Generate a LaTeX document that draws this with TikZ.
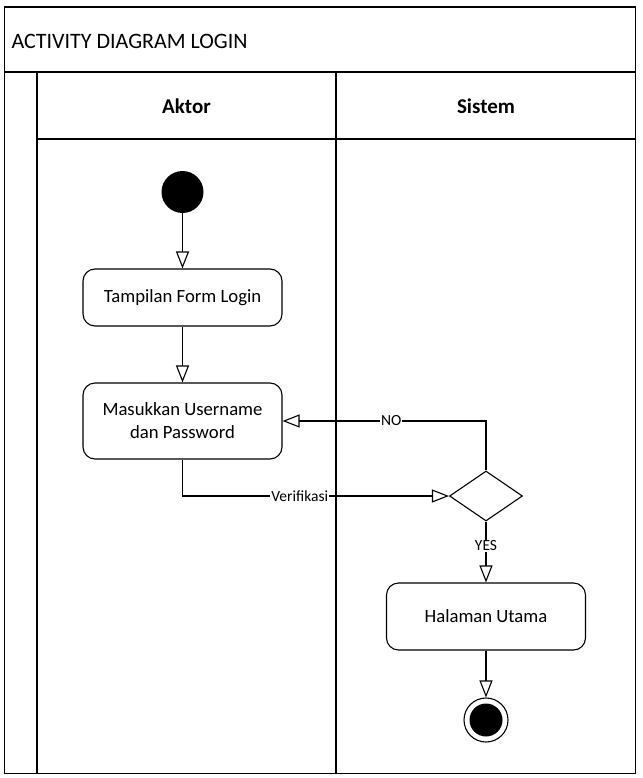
\documentclass[tikz,border=0pt]{standalone}
\usepackage{fontspec}
\setmainfont{Carlito}
\usetikzlibrary{positioning, shapes.geometric, arrows.meta}

\tikzset{
  lane/.style={draw, line width=1.1pt},
  action/.style={draw, line width=1.1pt, rounded corners=12pt, minimum width=199pt,
    align=center, font=\fontsize{18.7}{23}\selectfont},
  decision/.style={diamond, draw, line width=1.1pt, minimum width=73pt, minimum height=50pt, inner sep=0pt},
  startnode/.style={circle, fill=black, minimum size=42pt, inner sep=0pt},
  endnode/.style={circle, draw, line width=1.1pt, minimum size=44pt, inner sep=0pt,
    path picture={\fill (path picture bounding box.center) circle (16.5pt);}},
  flow/.style={line width=1.1pt, -{Triangle[open, length=17pt, width=13pt, fill=white]}},
  lbl/.style={fill=white, inner sep=1pt, font=\fontsize{15.5}{18}\selectfont}
}

\begin{document}
\begin{tikzpicture}[x=1pt, y=-1pt]
    \useasboundingbox (0,0) rectangle (642,778);

    % Frame and title
    \draw[lane] (4.5,7) rectangle (635.5,773.5);
    \draw[lane] (4.5,72) -- (635.5,72);
    \node[anchor=west, font=\fontsize{22}{26}\selectfont] (title) at (8,41) {ACTIVITY DIAGRAM LOGIN};

    % Swimlanes
    \draw[lane] (37,72) -- (37,773.5);
    \draw[lane] (336,72) -- (336,773.5);
    \draw[lane] (37,139) -- (635.5,139);
    \node[font=\fontsize{21}{25}\selectfont\bfseries] (aktor) at (186.5,106) {Aktor};
    \node[font=\fontsize{21}{25}\selectfont\bfseries] (sistem) at (486,106) {Sistem};

    % Activities
    \node[startnode] (start) at (182.5,192) {};
    \node[action, minimum height=57pt] (tampilan) at (182.5,297.5) {Tampilan Form Login};
    \node[action, minimum height=76pt] (masukkan) at (182.5,421) {Masukkan Username\\dan Password};
    \node[decision] (cek) at (486,496) {};
    \node[action, minimum height=67pt] (halaman) at (486,616.5) {Halaman Utama};
    \node[endnode] (finish) at (486,720) {};

    % Flows
    \draw[flow] (start) -- (tampilan);
    \draw[flow] (tampilan) -- (masukkan);
    \draw[flow] (masukkan.south) |- node[lbl, pos=0.72] {Verifikasi} (cek.west);
    \draw[flow] (cek.north) |- node[lbl, pos=0.733] {NO} (masukkan.east);
    \draw[flow] (cek.south) -- node[lbl, pos=0.4] {YES} (halaman.north);
    \draw[flow] (halaman) -- (finish);
\end{tikzpicture}
\end{document}
